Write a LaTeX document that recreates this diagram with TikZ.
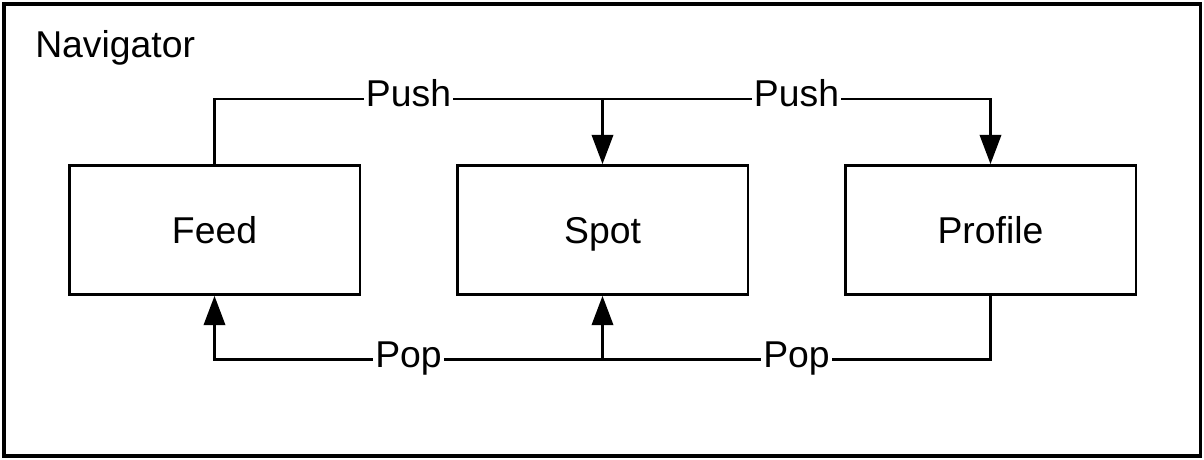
\documentclass[tikz,border=0pt]{standalone}
\usepackage{fontspec}
\setmainfont{Liberation Sans}
\usepackage{tikz}
\usetikzlibrary{positioning,arrows.meta}

\begin{document}
\begin{tikzpicture}[
  x=0.75pt,y=0.75pt,
  every node/.style={font=\fontsize{28}{34}\selectfont},
  screen/.style={draw,line width=2pt,minimum width=218pt,minimum height=96.75pt,inner sep=0pt,text depth=0pt},
  wire/.style={line width=2pt},
  go/.style={wire,-{Triangle[length=22pt,width=16pt]}},
  lbl/.style={fill=white,inner sep=1.5pt,text height=0.75em,text depth=0.25em,yshift=-3pt}]

  \useasboundingbox (0,0) rectangle (1204,460);

  % ------------------- navigator ----------------------
  \draw[line width=2.5pt] (4,4) rectangle (1200.5,456);
  \node[anchor=base west,inner sep=0pt] (title) at (35,402) {Navigator};

  % ------------------- screens ----------------------
  \node[screen] (feed)    at (214.5,230) {Feed};
  \node[screen] (spot)    at (602.5,230) {Spot};
  \node[screen] (profile) at (990.5,230) {Profile};

  \coordinate (pushhub) at ([yshift=48.75pt]spot.north);
  \coordinate (pophub)  at ([yshift=-48pt]spot.south);

  % ------------------- push ----------------------
  \draw[wire] (feed.north) |- node[lbl,pos=0.75] (push1) {Push} (pushhub);
  \draw[go] (pushhub) -| node[lbl,pos=0.25] (push2) {Push} (profile.north);
  \draw[go] (pushhub) -- (spot.north);

  % ------------------- pop ----------------------
  \draw[wire] (profile.south) |- node[lbl,pos=0.75] (pop2) {Pop} (pophub);
  \draw[go] (pophub) -| node[lbl,pos=0.25] (pop1) {Pop} (feed.south);
  \draw[go] (pophub) -- (spot.south);
\end{tikzpicture}
\end{document}
